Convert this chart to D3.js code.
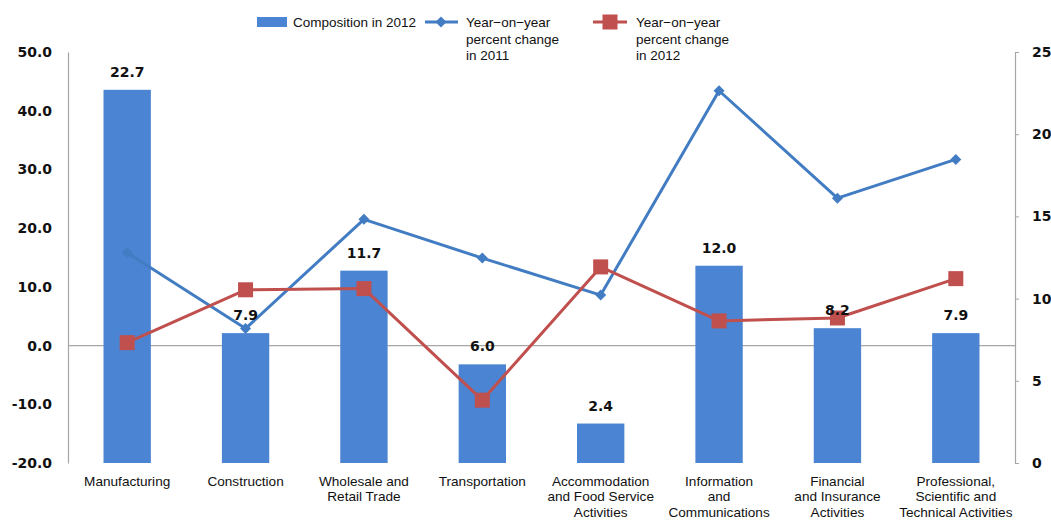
<!DOCTYPE html>
<html>
<head>
<meta charset="utf-8">
<script src="https://cdn.jsdelivr.net/npm/d3@7"></script>
<style>
  html, body { margin: 0; padding: 0; background: #fff; }
  svg { display: block; }
</style>
</head>
<body>
<svg id="chart" width="1051" height="520"></svg>
<script>
// Industry categories (multi-line labels)
const categories = [
  ["Manufacturing"],
  ["Construction"],
  ["Wholesale and", "Retail Trade"],
  ["Transportation"],
  ["Accommodation", "and Food Service", "Activities"],
  ["Information", "and", "Communications"],
  ["Financial", "and Insurance", "Activities"],
  ["Professional,", "Scientific and", "Technical Activities"]
];
// Composition in 2012 (right axis)
const composition2012 = [22.7, 7.9, 11.7, 6.0, 2.4, 12.0, 8.2, 7.9];
// Year-on-year percent change (left axis)
const yoy2011 = [15.8, 2.9, 21.5, 14.9, 8.6, 43.4, 25.1, 31.7];
const yoy2012 = [0.5, 9.5, 9.7, -9.3, 13.4, 4.2, 4.7, 11.4];
// Axis ticks
const leftTicks = [-20, -10, 0, 10, 20, 30, 40, 50];
const rightTicks = [0, 5, 10, 15, 20, 25];

const svg = d3.select("#chart");
const plotLeft = 68, plotRight = 1015, plotTop = 52, plotBottom = 463;

const x = d3.scaleBand().domain(d3.range(categories.length)).range([plotLeft, plotRight]).paddingInner(0.6).paddingOuter(0.3);
const yL = d3.scaleLinear().domain([-20, 50]).range([plotBottom, plotTop]);
const yR = d3.scaleLinear().domain([0, 25]).range([plotBottom, plotTop]);
const cx = i => x(i) + x.bandwidth() / 2;

const barColor = "#4a84d2";
const blue = "#427cc2";
const red = "#c0504d";
const axisFont = "'DejaVu Sans', Verdana, sans-serif";
const textFont = "'Liberation Sans', Arial, sans-serif";

// one decimal, plain hyphen for negatives
const fmt1 = d => d.toFixed(1);

// zero reference line
svg.append("line")
  .attr("x1", plotLeft).attr("x2", plotRight)
  .attr("y1", yL(0)).attr("y2", yL(0))
  .attr("stroke", "#a6a6a6").attr("stroke-width", 1.2);

// left axis
const gL = svg.append("g").attr("transform", `translate(${plotLeft},0)`)
  .call(d3.axisLeft(yL).tickValues(leftTicks).tickFormat(fmt1).tickSize(0).tickPadding(16));
gL.select(".domain").attr("stroke", "#a6a6a6").attr("stroke-width", 1.2);
gL.selectAll("text").attr("font-family", axisFont).attr("font-weight", "bold").attr("font-size", 14).attr("fill", "#111");

// right axis
const gR = svg.append("g").attr("transform", `translate(${plotRight},0)`)
  .call(d3.axisRight(yR).tickValues(rightTicks).tickFormat(d3.format("d")).tickSize(4).tickSizeOuter(4).tickPadding(13));
gR.select(".domain").attr("stroke", "#a6a6a6").attr("stroke-width", 1.2);
gR.selectAll(".tick line").attr("stroke", "#a6a6a6");
gR.selectAll("text").attr("font-family", axisFont).attr("font-weight", "bold").attr("font-size", 14).attr("fill", "#111");

// composition bars
svg.append("g").selectAll("rect").data(composition2012).join("rect")
  .attr("x", (d, i) => x(i))
  .attr("width", x.bandwidth())
  .attr("y", d => yR(d))
  .attr("height", d => yR(0) - yR(d))
  .attr("fill", barColor);

// lines
const line = d3.line().x((d, i) => cx(i)).y(d => yL(d));
svg.append("path").datum(yoy2011).attr("d", line)
  .attr("fill", "none").attr("stroke", blue).attr("stroke-width", 3).attr("stroke-linejoin", "round");
svg.append("path").datum(yoy2012).attr("d", line)
  .attr("fill", "none").attr("stroke", red).attr("stroke-width", 3).attr("stroke-linejoin", "round");

// markers
const diamond = d3.symbol().type(d3.symbolDiamond2).size(78);
svg.append("g").selectAll("path").data(yoy2011).join("path")
  .attr("d", diamond)
  .attr("transform", (d, i) => `translate(${cx(i)},${yL(d)})`)
  .attr("fill", blue);
const sq = 15;
svg.append("g").selectAll("rect").data(yoy2012).join("rect")
  .attr("x", (d, i) => cx(i) - sq / 2).attr("y", d => yL(d) - sq / 2)
  .attr("width", sq).attr("height", sq)
  .attr("fill", red);

// bar value labels
svg.append("g").selectAll("text").data(composition2012).join("text")
  .attr("x", (d, i) => cx(i))
  .attr("y", d => yR(d) - 13)
  .attr("text-anchor", "middle")
  .attr("font-family", axisFont).attr("font-weight", "bold").attr("font-size", 14)
  .attr("fill", "#111")
  .text(fmt1);

// category labels
const catG = svg.append("g").selectAll("text").data(categories).join("text")
  .attr("text-anchor", "middle")
  .attr("font-family", textFont).attr("font-size", 13.6).attr("fill", "#111");
catG.each(function(lines, i) {
  d3.select(this).selectAll("tspan").data(lines).join("tspan")
    .attr("x", cx(i))
    .attr("y", (d, j) => 485.5 + j * 15.5)
    .text(d => d);
});

// legend
const legend = svg.append("g").attr("font-family", textFont).attr("font-size", 13.5).attr("fill", "#111");
legend.append("rect").attr("x", 257).attr("y", 17).attr("width", 30).attr("height", 10).attr("fill", barColor);
legend.append("text").attr("x", 293).attr("y", 27).text("Composition in 2012");

legend.append("line").attr("x1", 425).attr("x2", 458).attr("y1", 22).attr("y2", 22).attr("stroke", blue).attr("stroke-width", 3);
legend.append("path").attr("d", diamond).attr("transform", "translate(441,22)").attr("fill", blue);
const t1 = legend.append("text");
["Year−on−year", "percent change", "in 2011"].forEach((s, j) =>
  t1.append("tspan").attr("x", 466).attr("y", 27 + j * 16.5).text(s));

legend.append("line").attr("x1", 593).attr("x2", 627).attr("y1", 22).attr("y2", 22).attr("stroke", red).attr("stroke-width", 3);
legend.append("rect").attr("x", 610 - 7.5).attr("y", 14.5).attr("width", 15).attr("height", 15).attr("fill", red);
const t2 = legend.append("text");
["Year−on−year", "percent change", "in 2012"].forEach((s, j) =>
  t2.append("tspan").attr("x", 636).attr("y", 27 + j * 16.5).text(s));
</script>
</body>
</html>
